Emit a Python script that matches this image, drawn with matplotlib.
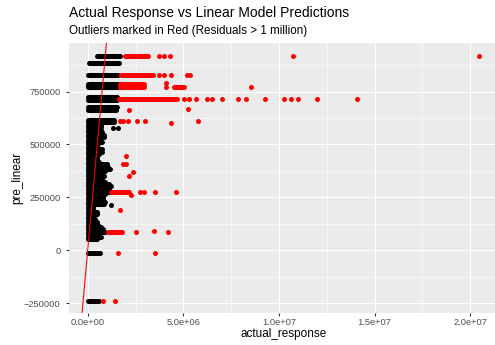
import matplotlib
matplotlib.use("Agg")
import matplotlib.pyplot as plt

# ---------------- data (x in millions, y in thousands) ----------------
# dense black clusters: horizontal runs of overlapping points
black_run_y = [919.7, 885.2, 828.0, 784.0, 777.0, 770.0, 724.5, 710.0, 677.0, 663.0,
               617.0, 604.0,
               592.2, 580.3, 568.5, 556.7, 544.9, 533.1, 521.3, 511.8, 500.0, 488.2,
               476.4, 464.6, 452.8, 440.9, 429.1, 417.3, 405.5, 393.7, 384.2, 372.4,
               360.6, 348.8, 337.0, 325.1, 313.3, 301.5, 289.7, 275.5, 263.7, 251.9,
               240.1, 228.3, 216.5, 204.6, 192.8, 181.0, 169.2, 157.4, 145.6, 133.7,
               121.9, 110.1, 98.3, 87.9, 77.0, 64.3, 53.4,
               -11.3, -238.2]
black_run_x0 = [0.48, 0.08, 0.04, 0.04, 0.04, 0.04, 0.04, 0.04, 0.04, 0.04,
                0.04, 0.04,
                0.02, 0.02, 0.02, 0.02, 0.02, 0.02, 0.02, 0.02, 0.02, 0.02,
                0.02, 0.02, 0.02, 0.02, 0.02, 0.02, 0.02, 0.02, 0.02, 0.02,
                0.02, 0.02, 0.02, 0.02, 0.02, 0.02, 0.02, 0.02, 0.02, 0.02,
                0.02, 0.02, 0.02, 0.02, 0.02, 0.02, 0.02, 0.02, 0.02, 0.02,
                0.02, 0.02, 0.02, 0.02, 0.02, 0.04, 0.04,
                0.04, 0.04]
black_run_x1 = [1.70, 1.62, 1.60, 1.60, 1.60, 1.60, 1.52, 1.52, 1.54, 1.50,
                1.38, 1.38,
                0.67, 0.67, 0.67, 0.75, 0.83, 0.83, 0.60, 0.76, 0.55, 0.50,
                0.77, 0.77, 0.60, 0.50, 0.50, 0.60, 1.00, 1.05, 1.19, 0.90,
                0.76, 0.85, 0.76, 0.90, 1.10, 1.20, 1.10, 1.09, 0.90, 0.80,
                0.80, 0.90, 0.85, 0.30, 0.30, 0.50, 0.50, 0.30, 0.40, 0.50,
                0.55, 0.70, 0.80, 0.93, 0.60, 0.68, 0.50,
                0.62, 0.60]
black_pt_x = [1.31, 1.60, 1.20]
black_pt_y = [579.4, 579.4, 214.0]

# dense red outlier clusters: horizontal runs of overlapping points
red_run_y = [919.7, 828.0, 784.0, 770.0, 772.0, 717.0, 275.5, 87.9]
red_run_x0 = [1.95, 1.75, 1.70, 1.70, 4.52, 1.62, 1.20, 1.05]
red_run_x1 = [3.13, 3.40, 2.95, 2.95, 5.05, 4.69, 2.17, 1.80]

# isolated red outliers
red_pt_x = [3.73, 4.00, 4.30, 10.75, 20.48,
            3.75, 4.00, 4.35, 5.21, 5.35,
            4.08, 4.08, 8.52,
            5.04, 5.30, 5.65, 6.22, 6.52, 7.01, 7.87, 8.26, 9.27, 10.27, 10.62,
            11.01, 11.99, 14.10,
            2.18, 5.22,
            1.69, 1.86, 2.12, 2.56, 3.01, 4.36, 5.75,
            2.00, 1.86, 1.98, 2.18, 2.38,
            2.74, 2.96, 3.54, 4.62, 2.25,
            1.69,
            2.51, 3.48, 4.22,
            1.58, 3.50,
            0.81, 1.43]
red_pt_y = [919.7, 919.7, 919.7, 919.7, 919.7,
            828.0, 828.0, 828.0, 828.0, 828.0,
            792.0, 773.0, 773.0,
            717.0, 717.0, 717.0, 717.0, 717.0, 717.0, 717.0, 717.0, 717.0, 717.0, 717.0,
            717.0, 717.0, 717.0,
            663.0, 668.0,
            611.0, 611.0, 611.0, 611.0, 611.0, 603.0, 611.0,
            447.0, 408.0, 408.0, 351.0, 371.0,
            275.5, 275.5, 275.5, 275.5, 260.0,
            190.0,
            88.0, 92.6, 85.0,
            -11.3, -11.3,
            -238.2, -238.2]

abline_intercept = 0.0
abline_slope = 1.0

x_ticks = [0, 5e6, 1e7, 1.5e7, 2e7]
x_tick_labels = ["0.0e+00", "5.0e+06", "1.0e+07", "1.5e+07", "2.0e+07"]
x_minor = [2.5e6, 7.5e6, 1.25e7, 1.75e7]
y_ticks = [-250000, 0, 250000, 500000, 750000]
y_tick_labels = ["\u2212250000", "0", "250000", "500000", "750000"]
y_minor = [-125000, 125000, 375000, 625000, 875000]

XS = 1e6
YS = 1e3

# ---------------- figure ----------------
plt.rcParams['font.family'] = ['Liberation Sans', 'DejaVu Sans']
W, H = 495, 345
fig = plt.figure(figsize=(W / 72, H / 72), dpi=72)
ax = fig.add_axes([69 / W, 31.7 / H, (W - 69) / W, 270.6 / H])
ax.set_facecolor('#EBEBEB')
for s in ax.spines.values():
    s.set_visible(False)

ax.set_xlim(-0.978e6, 21.30e6)
ax.set_ylim(-297.7e3, 981e3)

for v in x_minor:
    ax.axvline(v, color='white', lw=0.53, zorder=0.5)
for v in y_minor:
    ax.axhline(v, color='white', lw=0.53, zorder=0.5)
for v in x_ticks:
    ax.axvline(v, color='white', lw=1.07, zorder=0.6)
for v in y_ticks:
    ax.axhline(v, color='white', lw=1.07, zorder=0.6)

MS = 5.0
for y, x0, x1 in zip(black_run_y, black_run_x0, black_run_x1):
    ax.plot([x0 * XS, x1 * XS], [y * YS, y * YS], color='black', lw=MS,
            solid_capstyle='round', zorder=2)
ax.plot([x * XS for x in black_pt_x], [y * YS for y in black_pt_y], 'o',
        color='black', ms=MS, mew=0, zorder=2)

for y, x0, x1 in zip(red_run_y, red_run_x0, red_run_x1):
    ax.plot([x0 * XS, x1 * XS], [y * YS, y * YS], color='red', lw=MS,
            solid_capstyle='round', zorder=3)
ax.plot([x * XS for x in red_pt_x], [y * YS for y in red_pt_y], 'o',
        color='red', ms=MS, mew=0, zorder=3)

ax.axline((0, abline_intercept), slope=abline_slope, color='red', lw=1.07, zorder=4)

ax.set_xticks(x_ticks)
ax.set_xticklabels(x_tick_labels)
ax.set_yticks(y_ticks)
ax.set_yticklabels(y_tick_labels)
ax.tick_params(axis='both', length=2.9, width=1.07, color='#333333',
               labelcolor='#4D4D4D', labelsize=9.3)
ax.tick_params(axis='x', pad=2.0)
ax.tick_params(axis='y', pad=5.5)

fig.text(284 / W, 8.5 / H, 'actual_response', ha='center', va='baseline',
         fontsize=11.7, color='black')
fig.text(17.5 / W, (H - 178) / H, 'pre_linear', ha='center', va='center',
         rotation=90, fontsize=11.7, color='black')
fig.text(69 / W, (H - 17.5) / H, 'Actual Response vs Linear Model Predictions',
         ha='left', va='baseline', fontsize=13.9, color='black')
fig.text(69 / W, (H - 33.7) / H, 'Outliers marked in Red (Residuals > 1 million)',
         ha='left', va='baseline', fontsize=11.6, color='black')

fig.savefig('out.png', dpi=72)
